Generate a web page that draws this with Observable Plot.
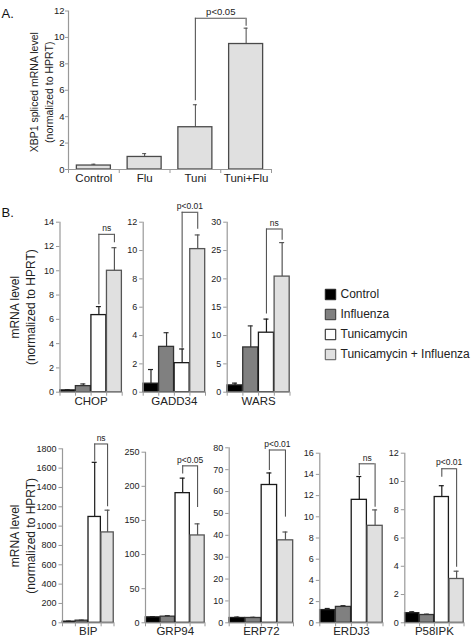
<!DOCTYPE html>
<html><head><meta charset="utf-8">
<script src="https://cdn.jsdelivr.net/npm/d3@7"></script>
<script src="https://cdn.jsdelivr.net/npm/@observablehq/plot@0.6"></script>
<style>
html,body{margin:0;padding:0;background:#fff;}
#chart{position:relative;width:476px;height:639px;overflow:hidden;font-family:"Liberation Sans",Arial,sans-serif;}
#chart svg{position:absolute;}
</style></head><body><div id="chart"></div>
<script>
// ---------- data ----------
const groups = ["Control", "Influenza", "Tunicamycin", "Tunicamycin + Influenza"];

// Panel A: XBP1 spliced mRNA
const xbp1Labels = ["Control", "Flu", "Tuni", "Tuni+Flu"];
const xbp1Means = [0.3, 0.95, 3.2, 9.5];
const xbp1SD = [0.1, 0.25, 1.7, 1.2];
const xbp1Sig = "p<0.05";
const xbp1Bracket = [11.45, 5.2, 10.85]; // top, left leg end, right leg end

// Panel B: genes
const genes = ["CHOP", "GADD34", "WARS", "BIP", "GRP94", "ERP72", "ERDJ3", "P58IPK"];
const meanCHOP = [0.15, 0.5, 6.35, 10.0],   sdCHOP = [0.05, 0.18, 0.7, 1.9];
const meanGADD34 = [0.6, 3.2, 2.05, 10.1],  sdGADD34 = [1.0, 1.0, 1.0, 1.0];
const meanWARS = [1.2, 7.9, 10.5, 20.4],    sdWARS = [0.4, 3.8, 2.4, 6.0];
const meanBIP = [12, 22, 1095, 935],        sdBIP = [5, 5, 565, 230];
const meanGRP94 = [8, 9, 190, 128],         sdGRP94 = [1, 1.5, 22, 17];
const meanERP72 = [2.2, 2.2, 63, 37.7],     sdERP72 = [0.4, 0.3, 5.5, 3.8];
const meanERDJ3 = [1.2, 1.5, 11.6, 9.15],   sdERDJ3 = [0.15, 0.12, 2.2, 1.5];
const meanP58IPK = [0.68, 0.55, 8.9, 3.1],  sdP58IPK = [0.1, 0.06, 0.8, 0.55];
const geneMeans = [meanCHOP, meanGADD34, meanWARS, meanBIP, meanGRP94, meanERP72, meanERDJ3, meanP58IPK];
const geneSD = [sdCHOP, sdGADD34, sdWARS, sdBIP, sdGRP94, sdERP72, sdERDJ3, sdP58IPK];
const geneTickMax = [14, 12, 30, 1800, 250, 80, 16, 12];
const geneTickStep = [2, 2, 5, 200, 50, 10, 2, 2];
const geneSig = ["ns", "p<0.01", "ns", "ns", "p<0.05", "p<0.01", "ns", "p<0.01"];
const bracketTop = [13.0, 12.7, 28.8, 1850, 230, 79, 15.0, 10.9];
const bracketLeft = [7.2, 3.1, 13.8, 1670, 218, 69.6, 13.9, 10.3];
const bracketRight = [12.3, 11.5, 26.8, 1200, 169, 48.3, 10.9, 3.93];

// ---------- styles ----------
const FONT = '"Liberation Sans", Arial, sans-serif';
const AXIS = "#999";
const INK = "#222";
const groupFill = ["#000000", "#808080", "#ffffff", "#e0e0e0"];
const groupStroke = ["#222", "#333", "#1a1a1a", "#555"];
const yTitle = "mRNA level\n(normalized to HPRT)";

// layout boxes (pixel geometry of each panel)
const geneLayout = [
  {left: 0,   top: 198, width: 128, height: 214, x0: 59.5,  x4: 121.7, y0: 391.7, yTop: 221.7, title: true, tag: "B."},
  {left: 128, top: 198, width: 80,  height: 214, x0: 142.7, x4: 205,   y0: 391.7, yTop: 221.7},
  {left: 208, top: 198, width: 92,  height: 214, x0: 226.7, x4: 289.5, y0: 391.7, yTop: 221.7},
  {left: 0,   top: 430, width: 120, height: 209, x0: 62,    x4: 113.5, y0: 622.3, yTop: 448.3, title: true},
  {left: 120, top: 430, width: 90,  height: 209, x0: 145,   x4: 204.5, y0: 622.3, yTop: 451.7},
  {left: 210, top: 430, width: 90,  height: 209, x0: 228.7, x4: 293,   y0: 622.3, yTop: 447.3},
  {left: 300, top: 430, width: 88,  height: 209, x0: 319.3, x4: 382.5, y0: 622.3, yTop: 452.7},
  {left: 388, top: 430, width: 88,  height: 209, x0: 404.3, x4: 463.5, y0: 622.3, yTop: 452.7}
];

const chart = document.getElementById("chart");

function place(svg, left, top) {
  svg.style.left = left + "px";
  svg.style.top = top + "px";
  chart.appendChild(svg);
}

function barPanel(p) {
  const xPx = (p.x4 - p.x0) / 4;             // px per x unit
  const yPx = (p.y0 - p.yTop) / p.ymax;      // px per y unit
  const cap = p.cap / xPx;
  const rows = p.means.map((m, i) => ({i, mean: m, top: m + p.sd[i], fill: p.fills[i], stroke: p.strokes[i]}));
  const ticks = d3.range(0, p.ymax + 1e-9, p.ystep);
  const [bt, bl, br] = p.bracket;
  const marks = [
    Plot.rect(rows, {x1: d => d.i + p.pad, x2: d => d.i + 1 - p.pad, y1: 0, y2: "mean",
      fill: "fill", stroke: "stroke", strokeWidth: 1.3}),
    Plot.ruleX(rows, {x: d => d.i + 0.5, y1: "mean", y2: "top", stroke: "stroke", strokeWidth: p.errW}),
    Plot.ruleY(rows, {y: "top", x1: d => d.i + 0.5 - cap, x2: d => d.i + 0.5 + cap, stroke: "stroke", strokeWidth: p.errW}),
    // axes
    Plot.ruleX([0], {y1: 0, y2: p.ymax, stroke: AXIS, strokeWidth: 1.2}),
    Plot.ruleY([0], {x1: 0, x2: 4, stroke: AXIS, strokeWidth: 1.2}),
    Plot.ruleY(ticks, {y: d => d, x1: -p.tickLen / xPx, x2: 0, stroke: AXIS, strokeWidth: 1}),
    Plot.text(ticks, {y: d => d, frameAnchor: "left", dx: p.tickDx, textAnchor: "end", text: d => String(d),
      fontSize: p.tickFont, fill: INK}),
    Plot.ruleX([0, 1, 2, 3, 4], {x: d => d, y1: 0, y2: -4 / yPx, stroke: AXIS, strokeWidth: 1}),
    Plot.text(p.catLabels, {x: (d, i) => p.catX(i), frameAnchor: "bottom", dy: p.labelDy, fontSize: p.catFont, fill: INK}),
    // significance bracket
    Plot.ruleX([2.5], {x: d => d, y1: bl, y2: bt, stroke: p.bracketColor, strokeWidth: 1.1}),
    Plot.ruleX([3.5], {x: d => d, y1: br, y2: bt, stroke: p.bracketColor, strokeWidth: 1.1}),
    Plot.ruleY([bt], {y: d => d, x1: 2.5, x2: 3.5, stroke: p.bracketColor, strokeWidth: 1.1}),
    Plot.text([p.sig], {x: () => 3, y: () => bt, dy: -6, fontSize: p.sigFont, fill: INK})
  ];
  if (p.title) {
    marks.push(Plot.text([p.title], {frameAnchor: "left", textAnchor: "middle", lineAnchor: "middle",
      dx: p.titleX - p.x0, dy: p.titleDy || 0,
      rotate: -90, fontSize: p.titleFont, lineHeight: p.titleLH, fill: INK}));
  }
  if (p.tag) {
    marks.push(Plot.text([p.tag], {frameAnchor: "top-left", dx: 1 - p.x0, dy: p.tagY - p.yTop,
      textAnchor: "start", fontSize: 13, fill: "#111"}));
  }
  const svg = Plot.plot({
    width: p.width, height: p.height,
    marginLeft: p.x0 - p.left, marginRight: p.left + p.width - p.x4,
    marginTop: p.yTop - p.top, marginBottom: p.top + p.height - p.y0,
    x: {domain: [0, 4], axis: null},
    y: {domain: [0, p.ymax], axis: null},
    color: {type: "identity"},
    style: {fontFamily: FONT, background: "none", overflow: "visible"},
    marks
  });
  place(svg, p.left, p.top);
}

// Panel A
barPanel({
  left: 0, top: 0, width: 285, height: 195, x0: 68, x4: 271, y0: 169, yTop: 10.5,
  means: xbp1Means, sd: xbp1SD, fills: xbp1Means.map(() => "#e0e0e0"), strokes: xbp1Means.map(() => "#4a4a4a"),
  ymax: 12, ystep: 2, pad: 0.165, cap: 2, errW: 1, tickLen: 3, tickDx: -4,
  catLabels: xbp1Labels, catX: i => i + 0.5, labelDy: 12, catFont: 11.5, tickFont: 9.5,
  bracket: xbp1Bracket, sig: xbp1Sig, sigFont: 9.5, bracketColor: "#555",
  title: "XBP1 spliced mRNA level\n(normalized to HPRT)", titleX: 40.5, titleDy: 2, titleFont: 10.5, titleLH: 1.43,
  tag: "A.", tagY: 8
});

// Panel B
genes.forEach((g, k) => {
  const L = geneLayout[k];
  barPanel({
    ...L,
    means: geneMeans[k], sd: geneSD[k], fills: groupFill, strokes: groupStroke,
    ymax: geneTickMax[k], ystep: geneTickStep[k], pad: 0.02, cap: 2.5, errW: 1.2, tickLen: 3.5, tickDx: -6,
    catLabels: [g], catX: () => 2, labelDy: k < 3 ? 13 : 12, catFont: 11.5, tickFont: 9,
    bracket: [bracketTop[k], bracketLeft[k], bracketRight[k]], sig: geneSig[k], sigFont: 8.5, bracketColor: "#555",
    title: L.title ? yTitle : null, titleX: 21.5, titleFont: 12, titleLH: 1.35,
    tag: L.tag, tagY: 207.5
  });
});

// Legend
const legend = Plot.plot({
  width: 176, height: 82,
  marginLeft: 30, marginRight: 145, marginTop: 10.3, marginBottom: 10,
  x: {domain: [0, 1], axis: null},
  y: {type: "point", domain: groups, padding: 0, axis: null},
  color: {type: "identity"},
  style: {fontFamily: FONT, background: "none", overflow: "visible"},
  marks: [
    Plot.dot(groups, {x: () => 0, y: d => d, symbol: "square", r: 5.9,
      fill: (d, i) => groupFill[i], stroke: (d, i) => groupStroke[i], strokeWidth: 1}),
    Plot.text(groups, {x: () => 0, y: d => d, dx: 10, textAnchor: "start", fontSize: 12, fill: INK})
  ]
});
place(legend, 300, 283);
</script></body></html>
